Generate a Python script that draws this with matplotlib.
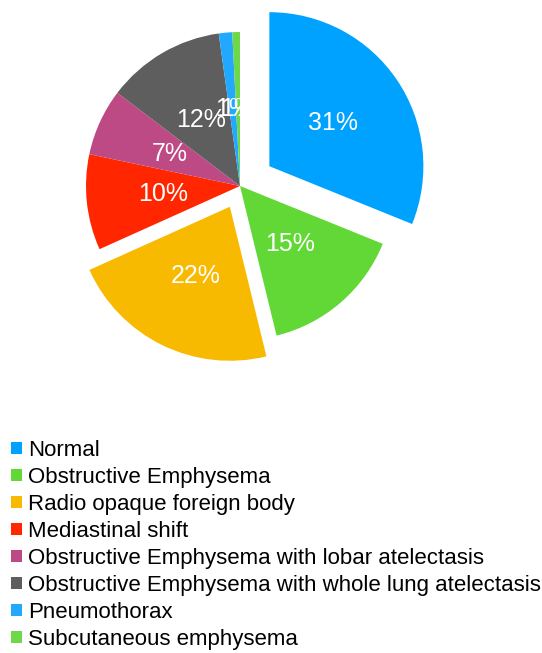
import matplotlib
matplotlib.use("Agg")
import matplotlib.pyplot as plt

plt.rcParams['font.family'] = ['Liberation Sans', 'DejaVu Sans']

categories = ["Normal", "Obstructive Emphysema", "Radio opaque foreign body",
              "Mediastinal shift", "Obstructive Emphysema with lobar atelectasis",
              "Obstructive Emphysema with whole lung atelectasis", "Pneumothorax",
              "Subcutaneous emphysema"]
values = [31, 15, 22, 10, 7, 12.4, 1.4, 0.8]
colors = ["#00A2FF", "#61D836", "#F8BA00", "#FF2600", "#BE4A85", "#5E5E5E",
          "#22A9FF", "#6ED84A"]
explode = [0.23, 0, 0.15, 0, 0, 0, 0, 0]

W, H = 542, 653
fig = plt.figure(figsize=(W / 100, H / 100), dpi=100)
cx, cy, r = 240, 186, 154
L = 1.5
half = L * r
ax = fig.add_axes([(cx - half) / W, (H - cy - half) / H, 2 * half / W, 2 * half / H])

wedges, texts, autotexts = ax.pie(values, colors=colors, explode=explode,
                                  startangle=90, counterclock=False,
                                  autopct='%1.0f%%', pctdistance=0.5,
                                  wedgeprops=dict(linewidth=0),
                                  textprops=dict(color='white', fontsize=18))
ax.set_xlim(-L, L)
ax.set_ylim(-L, L)
ax.set_aspect('equal')
ax.axis('off')

fig.legend(wedges, categories, loc='upper left',
           bbox_to_anchor=(11 / W, 1 - 440 / H), bbox_transform=fig.transFigure,
           frameon=False, fontsize=16, handlelength=0.5, handleheight=0.5,
           handletextpad=0.25, labelspacing=0.27, borderpad=0, borderaxespad=0)

fig.savefig("out.png", dpi=100)
